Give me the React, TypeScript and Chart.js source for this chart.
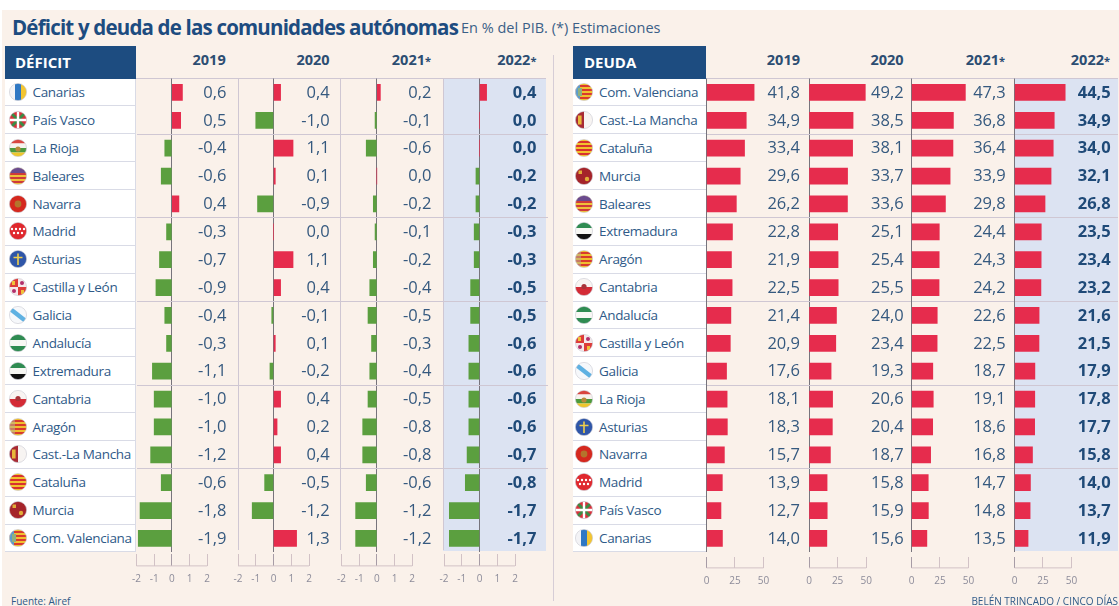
import React, { useEffect, useRef, useId } from "react";
import { Chart, registerables } from "chart.js";

Chart.register(...registerables);

const deficitRegions = ["Canarias","País Vasco","La Rioja","Baleares","Navarra","Madrid","Asturias","Castilla y León","Galicia","Andalucía","Extremadura","Cantabria","Aragón","Cast.-La Mancha","Cataluña","Murcia","Com. Valenciana"];
const deficit2019 = [0.6,0.5,-0.4,-0.6,0.4,-0.3,-0.7,-0.9,-0.4,-0.3,-1.1,-1.0,-1.0,-1.2,-0.6,-1.8,-1.9];
const deficit2020 = [0.4,-1.0,1.1,0.1,-0.9,0.0,1.1,0.4,-0.1,0.1,-0.2,0.4,0.2,0.4,-0.5,-1.2,1.3];
const deficit2021 = [0.2,-0.1,-0.6,0.0,-0.2,-0.1,-0.2,-0.4,-0.5,-0.3,-0.4,-0.5,-0.8,-0.8,-0.6,-1.2,-1.2];
const deficit2022 = [0.4,0.0,0.0,-0.2,-0.2,-0.3,-0.3,-0.5,-0.5,-0.6,-0.6,-0.6,-0.6,-0.7,-0.8,-1.7,-1.7];

const deudaRegions = ["Com. Valenciana","Cast.-La Mancha","Cataluña","Murcia","Baleares","Extremadura","Aragón","Cantabria","Andalucía","Castilla y León","Galicia","La Rioja","Asturias","Navarra","Madrid","País Vasco","Canarias"];
const deuda2019 = [41.8,34.9,33.4,29.6,26.2,22.8,21.9,22.5,21.4,20.9,17.6,18.1,18.3,15.7,13.9,12.7,14.0];
const deuda2020 = [49.2,38.5,38.1,33.7,33.6,25.1,25.4,25.5,24.0,23.4,19.3,20.6,20.4,18.7,15.8,15.9,15.6];
const deuda2021 = [47.3,36.8,36.4,33.9,29.8,24.4,24.3,24.2,22.6,22.5,18.7,19.1,18.6,16.8,14.7,14.8,13.5];
const deuda2022 = [44.5,34.9,34.0,32.1,26.8,23.5,23.4,23.2,21.6,21.5,17.9,17.8,17.7,15.8,14.0,13.7,11.9];

const yearLabels = ["2019","2020","2021*","2022*"];
const deficitTicks = [-2,-1,0,1,2];
const deudaTicks = [0,25,50];

const FONT = '"Open Sans", sans-serif';
const NAVY = "#1d4c80";
const TEXT = "#35597f";
const RED = "#e62c4d";
const GREEN = "#5b9f3f";
const BLUE_BG = "#dce3f2";
const CREAM = "#faf1ea";
const RULE = "#cfc7d3";
const ZERO = "#77747c";
const AXIS = "#d2c2c6";

const PLOT_TOP = 78.5;
const ROW_H = 27.875;
const PLOT_H = ROW_H * 17;
const CANVAS_TOP = 78;
const CANVAS_H = 528;
const PAD = 14;
const PANEL_W = 102.5;
const GROUP_STARTS = [2,5,8,11,14];

const fmt = (v: number) => v.toFixed(1).replace(".", ",");

type PanelCfg = {
  labels: string[]; values: number[]; left: number; unit: number; min: number;
  ticks: number[]; valueRight: number; bold: boolean; tickLen: number; tickGap: number; tickPad: number; blue: boolean;
};

const panels: PanelCfg[] = [
  { labels: deficitRegions, values: deficit2019, left: 136.5, unit: 17.5, min: -2, ticks: deficitTicks, valueRight: 226.5, bold: false, tickLen: 14, tickGap: 2, tickPad: 7, blue: false },
  { labels: deficitRegions, values: deficit2020, left: 238, unit: 17.5, min: -2, ticks: deficitTicks, valueRight: 329.6, bold: false, tickLen: 14, tickGap: 2, tickPad: 7, blue: false },
  { labels: deficitRegions, values: deficit2021, left: 341.5, unit: 17.5, min: -2, ticks: deficitTicks, valueRight: 431.4, bold: false, tickLen: 14, tickGap: 2, tickPad: 7, blue: false },
  { labels: deficitRegions, values: deficit2022, left: 444, unit: 17.5, min: -2, ticks: deficitTicks, valueRight: 536.4, bold: true, tickLen: 14, tickGap: 2, tickPad: 7, blue: true },
  { labels: deudaRegions, values: deuda2019, left: 706.5, unit: 1.128, min: 0, ticks: deudaTicks, valueRight: 800, bold: false, tickLen: 16, tickGap: 5, tickPad: 7, blue: false },
  { labels: deudaRegions, values: deuda2020, left: 809, unit: 1.128, min: 0, ticks: deudaTicks, valueRight: 903.6, bold: false, tickLen: 16, tickGap: 5, tickPad: 7, blue: false },
  { labels: deudaRegions, values: deuda2021, left: 911.5, unit: 1.128, min: 0, ticks: deudaTicks, valueRight: 1005.7, bold: false, tickLen: 16, tickGap: 5, tickPad: 7, blue: false },
  { labels: deudaRegions, values: deuda2022, left: 1014.5, unit: 1.128, min: 0, ticks: deudaTicks, valueRight: 1110.7, bold: true, tickLen: 16, tickGap: 5, tickPad: 7, blue: true },
];

function Panel({ cfg }: { cfg: PanelCfg }) {
  const ref = useRef<HTMLCanvasElement>(null);
  useEffect(() => {
    const canvasLeft = Math.floor(cfg.left) - PAD;
    const padLeft = cfg.left - canvasLeft;
    const max = cfg.min + PANEL_W / cfg.unit;
    const overlay = {
      id: "overlay",
      afterDatasetsDraw(chart: any) {
        const { ctx, scales } = chart;
        ctx.save();
        ctx.font = `${cfg.bold ? 700 : 400} 16.5px ${FONT}`;
        ctx.fillStyle = cfg.bold ? "#1f4a78" : TEXT;
        ctx.textAlign = "right";
        ctx.textBaseline = "middle";
        cfg.values.forEach((v, i) => {
          ctx.fillText(fmt(v), cfg.valueRight - canvasLeft, scales.y.getPixelForTick(i) + 0.5);
        });
        const yb = chart.chartArea.bottom + cfg.tickLen - 0.5;
        ctx.strokeStyle = AXIS;
        ctx.lineWidth = 1;
        ctx.beginPath();
        ctx.moveTo(scales.x.getPixelForValue(cfg.ticks[0]), yb);
        ctx.lineTo(scales.x.getPixelForValue(cfg.ticks[cfg.ticks.length - 1]), yb);
        ctx.stroke();
        ctx.restore();
      },
    };
    const chart = new Chart(ref.current!, {
      type: "bar",
      data: {
        labels: cfg.labels,
        datasets: [{
          data: cfg.values,
          backgroundColor: (c: any) => (c.raw < 0 ? GREEN : RED),
          barThickness: 16,
          borderWidth: 0,
        }],
      },
      plugins: [overlay],
      options: {
        indexAxis: "y",
        animation: false,
        responsive: false,
        layout: { padding: { left: padLeft, right: PAD, top: PLOT_TOP - CANVAS_TOP, bottom: 0 } },
        plugins: { legend: { display: false }, tooltip: { enabled: false }, title: { display: false } },
        scales: {
          x: {
            type: "linear",
            position: "bottom",
            min: cfg.min,
            max,
            afterBuildTicks: (s: any) => { s.ticks = cfg.ticks.map((value) => ({ value })); },
            afterFit: (s: any) => { s.height = CANVAS_H - (PLOT_TOP - CANVAS_TOP) - PLOT_H; },
            border: { display: false },
            grid: {
              color: (c: any) => (c.tick && c.tick.value === 0 ? ZERO : "rgba(0,0,0,0)"),
              tickColor: (c: any) => (c.tick && c.tick.value === 0 ? "#a79ca6" : AXIS),
              tickLength: cfg.tickLen,
              tickBorderDash: [0, cfg.tickGap, cfg.tickLen - cfg.tickGap, 40],
              lineWidth: 1,
            },
            ticks: {
              autoSkip: false,
              maxRotation: 0,
              padding: cfg.tickPad,
              color: "#8d8c9a",
              font: { family: FONT, size: 10 },
              callback: (v: any) => String(v),
            },
          },
          y: {
            type: "category",
            display: true,
            afterFit: (s: any) => { s.width = 0; },
            border: { display: false },
            ticks: { display: false },
            grid: {
              offset: true,
              drawTicks: false,
              color: (c: any) => (GROUP_STARTS.includes(c.index) ? RULE : "rgba(0,0,0,0)"),
            },
          },
        },
      },
    } as any);
    return () => chart.destroy();
  }, [cfg]);
  const canvasLeft = Math.floor(cfg.left) - PAD;
  const w = Math.ceil(PANEL_W) + PAD * 2 + 1;
  return (
    <canvas
      ref={ref}
      width={w}
      height={CANVAS_H}
      style={{ position: "absolute", left: canvasLeft, top: CANVAS_TOP, width: w, height: CANVAS_H, display: "block" }}
    />
  );
}

function Flag({ name, left }: { name: string; left: number }) {
  const id = useId().replace(/[^a-zA-Z0-9]/g, "");
  const stripes = (n: number, a: string, b: string, x = 0) => {
    const h = 18 / (n * 2 - 1);
    return Array.from({ length: n * 2 - 1 }, (_, i) => (
      <rect key={i} x={x} y={i * h} width={18} height={h + 0.2} fill={i % 2 === 0 ? a : b} />
    ));
  };
  let art: React.ReactNode = null;
  switch (name) {
    case "Canarias":
      art = <><rect width="18" height="18" fill="#f3f3f6" /><rect x="6" width="6" height="18" fill="#2f78c4" /><rect x="12" width="6" height="18" fill="#f3c531" /></>;
      break;
    case "País Vasco":
      art = <><rect width="18" height="18" fill="#d8323c" /><path d="M0 0L18 18M18 0L0 18" stroke="#3d8a45" strokeWidth="3" /><path d="M9 0V18M0 9H18" stroke="#fff" strokeWidth="2.4" /></>;
      break;
    case "La Rioja":
      art = <><rect width="18" height="4.5" fill="#d9453f" /><rect y="4.5" width="18" height="4.5" fill="#f7f2ee" /><rect y="9" width="18" height="4.5" fill="#4d9a3d" /><rect y="13.5" width="18" height="4.5" fill="#efc62c" /><circle cx="9" cy="10" r="2.6" fill="#b98a3a" /></>;
      break;
    case "Baleares":
      art = <>{stripes(5, "#efc13a", "#cf3a3a")}<rect width="18" height="6" fill="#6b4b8e" /></>;
      break;
    case "Navarra":
      art = <><rect width="18" height="18" fill="#d5281e" /><circle cx="9" cy="9" r="3.4" fill="#b4742c" /></>;
      break;
    case "Madrid":
      art = <><rect width="18" height="18" fill="#e0282e" />{[3,7,11,15].map((x) => <circle key={x} cx={x} cy="7" r="1.2" fill="#fff" />)}{[5,9,13].map((x) => <circle key={x} cx={x} cy="11" r="1.2" fill="#fff" />)}</>;
      break;
    case "Asturias":
      art = <><rect width="18" height="18" fill="#2f56a8" /><path d="M9 3.5V15M4.5 7.5H13.5" stroke="#f0cf4a" strokeWidth="1.6" /></>;
      break;
    case "Castilla y León":
      art = <><rect width="18" height="18" fill="#f5e8ea" /><rect width="9" height="9" fill="#dd3c3a" /><rect x="9" y="9" width="9" height="9" fill="#dd3c3a" /><rect x="3" y="3" width="3" height="4" fill="#f0c23a" /><rect x="12" y="12" width="3" height="4" fill="#f0c23a" /><circle cx="13" cy="5" r="2" fill="#b22f6a" /><circle cx="5" cy="13" r="2" fill="#b22f6a" /></>;
      break;
    case "Galicia":
      art = <><rect width="18" height="18" fill="#f6f8fb" /><path d="M0 2L18 16" stroke="#5fb1e2" strokeWidth="4.5" /></>;
      break;
    case "Andalucía":
      art = <><rect width="18" height="18" fill="#f8f8f4" /><rect width="18" height="6" fill="#2f8c52" /><rect y="12" width="18" height="6" fill="#2f8c52" /></>;
      break;
    case "Extremadura":
      art = <><rect width="18" height="6" fill="#2f8c52" /><rect y="6" width="18" height="6" fill="#f8f8f4" /><rect y="12" width="18" height="6" fill="#111" /></>;
      break;
    case "Cantabria":
      art = <><rect width="18" height="9" fill="#f8f4f2" /><rect y="9" width="18" height="9" fill="#d42b36" /><circle cx="9" cy="8.5" r="2.6" fill="#a8343a" /></>;
      break;
    case "Aragón":
      art = <>{stripes(5, "#efbe2e", "#d83a2e")}<rect width="6" height="18" fill="#b9ae8e" opacity="0.55" /></>;
      break;
    case "Cast.-La Mancha":
      art = <><rect width="18" height="18" fill="#f7f4f2" /><rect width="9" height="18" fill="#a82a34" /><rect x="3" y="4.5" width="3.6" height="9" fill="#e8b83a" /></>;
      break;
    case "Cataluña":
      art = stripes(5, "#f2c22c", "#d8322e");
      break;
    case "Murcia":
      art = <><rect width="18" height="18" fill="#a5242a" /><rect x="3.5" y="3.5" width="3.5" height="3.5" fill="#e2ad38" /><circle cx="12" cy="12" r="2.2" fill="#e2ad38" /></>;
      break;
    case "Com. Valenciana":
      art = <>{stripes(5, "#f0c22e", "#da3a2e")}<rect width="5" height="18" fill="#5c9ccc" /><rect x="3" y="5" width="4" height="8" fill="#8fb07f" /></>;
      break;
  }
  return (
    <svg width="18" height="18" viewBox="0 0 18 18" style={{ position: "absolute", left, top: 4.5 }}>
      <defs><clipPath id={id}><circle cx="9" cy="9" r="8.6" /></clipPath></defs>
      <g clipPath={`url(#${id})`}>{art}</g>
      <circle cx="9" cy="9" r="8.6" fill="none" stroke="#c9c9d2" strokeWidth="0.6" />
    </svg>
  );
}

function Box({ left, width, top, height, bg, extra }: any) {
  return <div style={{ position: "absolute", left, width, top, height, background: bg, ...extra }} />;
}

function Text({ children, left, right, top, size, weight, color, extra }: any) {
  const st: any = {
    position: "absolute", top, fontFamily: FONT, fontSize: size, fontWeight: weight || 400,
    color, whiteSpace: "nowrap", lineHeight: "1", ...extra,
  };
  if (left !== undefined) st.left = left;
  if (right !== undefined) { st.right = 1119 - right; }
  return <div style={st}>{children}</div>;
}

function LabelColumn({ names, left, width, flagLeft, textLeft }: { names: string[]; left: number; width: number; flagLeft: number; textLeft: number }) {
  return (
    <>
      {names.map((n, i) => (
        <div key={n} style={{
          position: "absolute", left, width, top: PLOT_TOP + i * ROW_H, height: ROW_H,
          background: "#fff", boxSizing: "border-box",
          borderBottom: "1.5px solid #d9dbe6", borderRight: "1px solid #d9dbe6",
        }}>
          <Flag name={n} left={flagLeft} />
          <div style={{
            position: "absolute", left: textLeft, top: 0.5, lineHeight: `${ROW_H}px`, fontFamily: FONT,
            fontSize: 13.5, letterSpacing: "-0.33px", color: "#2f5a88", whiteSpace: "nowrap",
          }}>{n}</div>
        </div>
      ))}
    </>
  );
}

function YearLabel({ label, right }: { label: string; right: number }) {
  const star = label.endsWith("*");
  return (
    <Text right={right} top={53} size={14.5} weight={700} color="#2c4d72">
      {star ? label.slice(0, -1) : label}
      {star ? <span style={{ fontSize: 11 }}>*</span> : null}
    </Text>
  );
}

export default function App() {
  useEffect(() => {
    document.body.style.margin = "0";
    document.body.style.background = "#fff";
  }, []);
  const headerRights = [225.7, 329.6, 431, 536.4, 800, 903.6, 1005, 1110];
  return (
    <div style={{ position: "relative", width: 1119, height: 606, overflow: "hidden", background: "#fff" }}>
      <Box left={2} width={1117} top={10} height={596} bg={CREAM} />

      <Text left={12} top={17} size={20.5} weight={700} color={NAVY} extra={{ letterSpacing: "-0.82px" }}>Déficit y deuda de las comunidades autónomas</Text>
      <Text left={461} top={21} size={14.5} color="#3a5f87">En % del PIB. (*) Estimaciones</Text>

      <Box left={5} width={131} top={46} height={32.5} bg={NAVY} />
      <Text left={15} top={55} size={15} weight={700} color="#fff">DÉFICIT</Text>
      <Box left={573} width={133} top={46} height={32.5} bg={NAVY} />
      <Text left={584} top={55} size={15} weight={700} color="#fff">DEUDA</Text>

      {yearLabels.concat(yearLabels).map((y, i) => (
        <YearLabel key={i} label={y} right={headerRights[i]} />
      ))}

      <Box left={443} width={103} top={PLOT_TOP} height={472} bg={BLUE_BG} />
      <Box left={1015} width={103} top={PLOT_TOP} height={472} bg={BLUE_BG} />

      <Box left={136} width={410} top={78} height={1} bg={RULE} />
      <Box left={706} width={412} top={78} height={1} bg={RULE} />
      <Box left={238} width={1} top={78} height={472} bg={RULE} />
      <Box left={340} width={1} top={78} height={472} bg={RULE} />
      <Box left={443} width={1} top={78} height={472} bg={RULE} />
      <Box left={553} width={1} top={55} height={546} bg="#d6cdd6" />

      <LabelColumn names={deficitRegions} left={5} width={131} flagLeft={4} textLeft={27.5} />
      <LabelColumn names={deudaRegions} left={573} width={134} flagLeft={2} textLeft={26} />

      {panels.map((p, i) => <Panel key={i} cfg={p} />)}

      <Text left={11} top={596} size={10} color="#2f5a88">Fuente: Airef</Text>
      <Text right={1118} top={596} size={10} color="#2f5a88">BELÉN TRINCADO / CINCO DÍAS</Text>
    </div>
  );
}
